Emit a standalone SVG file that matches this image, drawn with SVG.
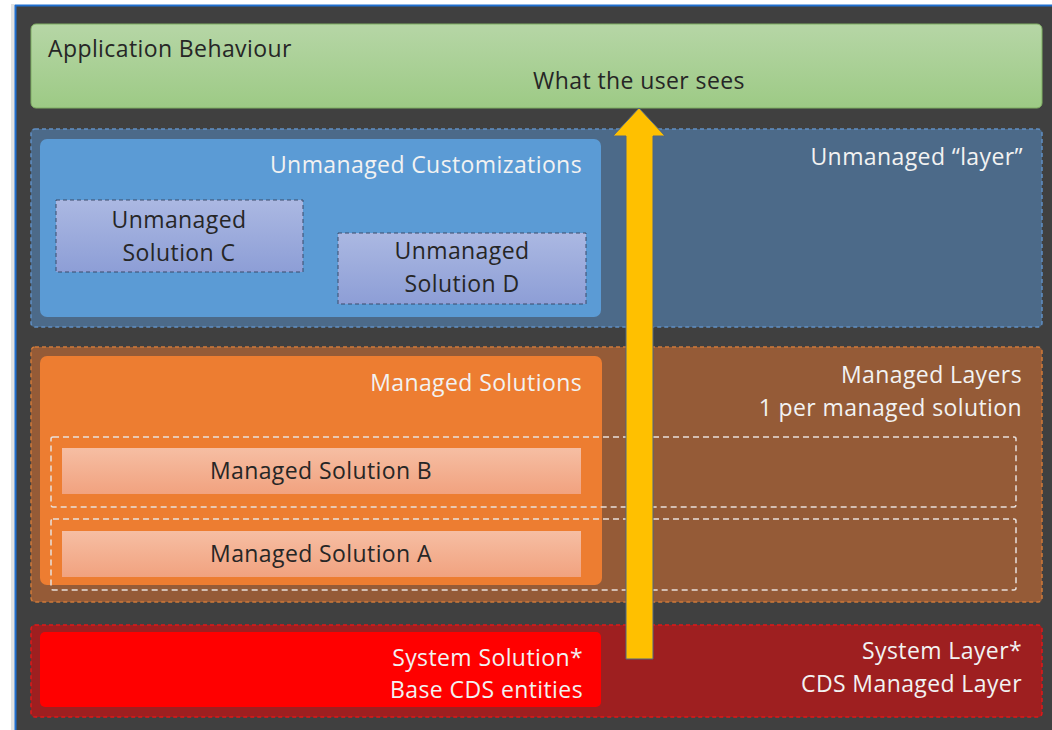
<svg xmlns="http://www.w3.org/2000/svg" width="1052" height="730" viewBox="0 0 1052 730">
<style>
text{font-family:"Open Sans","Liberation Sans",Arial,sans-serif;font-size:23px;letter-spacing:0.4px}
.dk{fill:#262626}
.wt{fill:#f2f2f2}
.r{text-anchor:end}
.c{text-anchor:middle}
.row{fill:none;stroke:#e8e0dc;stroke-width:1.5;stroke-dasharray:6 4}
</style>
<defs>
<linearGradient id="gGreen" x1="0" y1="0" x2="0" y2="1"><stop offset="0" stop-color="#b6d6a6"/><stop offset="1" stop-color="#9dca85"/></linearGradient>
<linearGradient id="gLav" x1="0" y1="0" x2="0" y2="1"><stop offset="0" stop-color="#abb8e2"/><stop offset="1" stop-color="#8d9ed6"/></linearGradient>
<linearGradient id="gPeach" x1="0" y1="0" x2="0" y2="1"><stop offset="0" stop-color="#f6bea3"/><stop offset="1" stop-color="#f1a27f"/></linearGradient>
</defs>
<rect x="0" y="0" width="1052" height="730" fill="#ffffff"/>
<rect x="11" y="4" width="4" height="726" fill="#e2e2e2"/>
<rect x="15" y="5" width="1037" height="725" fill="#404040"/>
<line x1="15.5" y1="5" x2="15.5" y2="730" stroke="#1f6fd0" stroke-width="2"/>
<line x1="15" y1="5.5" x2="1052" y2="5.5" stroke="#1f6fd0" stroke-width="2"/>

<g id="app-behaviour">
<rect x="31" y="24" width="1011" height="84" rx="5" fill="url(#gGreen)" stroke="#7fae63" stroke-width="1"/>
<text x="48" y="57" class="dk">Application Behaviour</text>
<text x="639" y="89" class="dk c">What the user sees</text>
</g>

<g id="unmanaged-layer">
<rect x="31" y="129" width="1011" height="198" rx="4" fill="#4c6a89" stroke="#5f8fc4" stroke-width="1.5" stroke-dasharray="4 3"/>
<text x="1023" y="165" class="wt r">Unmanaged “layer”</text>
</g>
<g id="unmanaged-customizations">
<rect x="40" y="139" width="561" height="178" rx="7" fill="#5b9bd5"/>
<text x="582" y="173" class="wt r">Unmanaged Customizations</text>
</g>
<g id="unmanaged-solution-c">
<rect x="56" y="200" width="247" height="72" fill="url(#gLav)" stroke="#3a4a6a" stroke-width="1" stroke-dasharray="4 3"/>
<text x="179" y="228" class="dk c">Unmanaged</text>
<text x="179" y="261" class="dk c">Solution C</text>
</g>
<g id="unmanaged-solution-d">
<rect x="338" y="233" width="248" height="71" fill="url(#gLav)" stroke="#3a4a6a" stroke-width="1" stroke-dasharray="4 3"/>
<text x="462" y="259" class="dk c">Unmanaged</text>
<text x="462" y="292" class="dk c">Solution D</text>
</g>

<g id="managed-layers">
<rect x="31" y="347" width="1011" height="255" rx="4" fill="#955b37" stroke="#d07a38" stroke-width="1.5" stroke-dasharray="4 3"/>
<text x="1022" y="383" class="wt r">Managed Layers</text>
<text x="1022" y="416" class="wt r">1 per managed solution</text>
</g>
<g id="managed-solutions">
<rect x="40" y="356" width="562" height="229" rx="7" fill="#ed7d31"/>
<text x="582" y="391" class="wt r">Managed Solutions</text>
</g>
<g id="row-b">
<rect x="51" y="437" width="965" height="70" rx="2" class="row"/>
</g>
<g id="row-a">
<rect x="51" y="519" width="965" height="71" rx="2" class="row"/>
</g>
<g id="managed-solution-b">
<rect x="62" y="448" width="519" height="46" fill="url(#gPeach)"/>
<text x="321" y="479" class="dk c">Managed Solution B</text>
</g>
<g id="managed-solution-a">
<rect x="62" y="531" width="519" height="46" fill="url(#gPeach)"/>
<text x="321" y="562" class="dk c">Managed Solution A</text>
</g>

<g id="system-layer">
<rect x="31" y="625" width="1011" height="92" rx="4" fill="#9e1f20" stroke="#e01818" stroke-width="1.5" stroke-dasharray="4 3"/>
<text x="1022" y="659" class="wt r">System Layer*</text>
<text x="1022" y="692" class="wt r">CDS Managed Layer</text>
</g>
<g id="system-solution">
<rect x="40" y="632" width="561" height="75" rx="5" fill="#ff0000"/>
<text x="583" y="666" class="wt r">System Solution*</text>
<text x="583" y="698" class="wt r">Base CDS entities</text>
</g>

<g id="connectors">
<polygon points="626,659 653,659 653,136 665,136 639,108 613,136 626,136" fill="#ffc000" stroke="#4f6683" stroke-width="1"/>
</g>
</svg>
